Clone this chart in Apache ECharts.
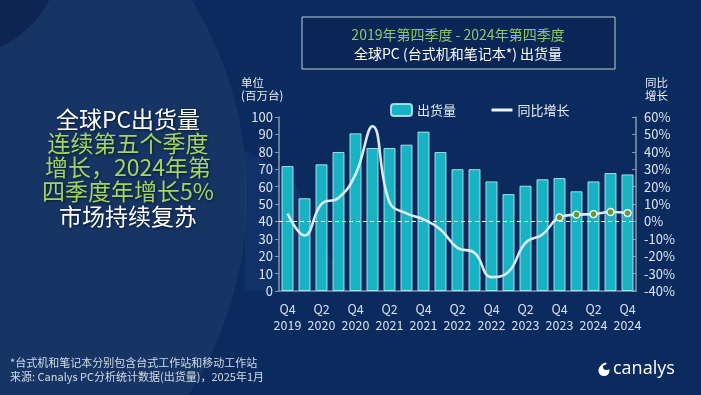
<!DOCTYPE html>
<html><head><meta charset="utf-8">
<script src="https://cdn.jsdelivr.net/npm/echarts@6/dist/echarts.min.js"></script>
<style>html,body{margin:0;padding:0;background:#0b2b5f}#c{width:701px;height:395px}</style>
</head><body><div id="c"></div>
<script>
const categories = ['Q4\n2019','Q1\n2020','Q2\n2020','Q3\n2020','Q4\n2020','Q1\n2021','Q2\n2021','Q3\n2021','Q4\n2021','Q1\n2022','Q2\n2022','Q3\n2022','Q4\n2022','Q1\n2023','Q2\n2023','Q3\n2023','Q4\n2023','Q1\n2024','Q2\n2024','Q3\n2024','Q4\n2024'];
const shipments = [71.8,53.3,72.8,79.9,90.6,82.2,82.2,84.1,91.6,79.9,70.0,70.0,63.0,55.7,60.5,64.2,64.9,57.3,63.0,67.8,67.0];
const yoyGrowth = [4.5,-8.1,10.0,13.5,27.0,54.7,11.0,4.6,1.2,-4.6,-15.2,-18.0,-32.0,-29.0,-12.3,-7.5,2.3,3.9,4.2,5.4,4.8];
const markerStart = 16;
const seriesNames = ['出货量','同比增长'];
const titleLines = ['2019年第四季度 - 2024年第四季度','全球PC (台式机和笔记本*) 出货量'];
const sideLines = [['全球PC出货量','#ffffff'],['连续第五个季度','#a3d465'],['增长，2024年第','#a3d465'],['四季度年增长5%','#a3d465'],['市场持续复苏','#ffffff']];
const notes = ['*台式机和笔记本分别包含台式工作站和移动工作站','来源: Canalys PC分析统计数据(出货量)，2025年1月'];

const FONT = '"Noto Sans CJK SC", "Noto Sans", sans-serif';
const chart = echarts.init(document.getElementById('c'));

const lineData = yoyGrowth.map((v, i) => i >= markerStart
  ? { value: v, symbol: 'circle', symbolSize: 7 }
  : { value: v, symbol: 'none' });

const sideText = sideLines.map((l, i) => ({
  type: 'text', silent: true, z: 5,
  style: { text: l[0], x: 128, y: 119 + i * 24.2, align: 'center', verticalAlign: 'middle',
    fill: l[1], font: '23px ' + FONT, textShadowColor: 'rgba(0,0,0,0.6)', textShadowBlur: 3, textShadowOffsetX: 1, textShadowOffsetY: 1 }
}));

const option = {
  backgroundColor: '#0b2b5f',
  textStyle: { fontFamily: FONT },
  animation: false,
  grid: { left: 279, right: 65, top: 117, bottom: 104, containLabel: false },
  legend: {
    left: 385, top: 98, itemGap: 34, itemWidth: 21, itemHeight: 12,
    textStyle: { color: '#e8eef5', fontSize: 13, fontFamily: FONT },
    data: [{ name: seriesNames[0] },
           { name: seriesNames[1], itemStyle: { opacity: 0 }, lineStyle: { color: '#eef5fb', width: 3 } }]
  },
  xAxis: {
    type: 'category', data: categories,
    axisLine: { lineStyle: { color: '#8797b0', width: 1.5 } },
    axisTick: { show: false },
    axisLabel: { interval: 1, color: '#d6e0ec', fontSize: 12.5, lineHeight: 16, margin: 10, fontFamily: FONT }
  },
  yAxis: [
    { type: 'value', min: 0, max: 100, interval: 10,
      axisLine: { show: true, lineStyle: { color: '#8797b0', width: 1.5 } },
      axisTick: { show: true, length: 4, lineStyle: { color: '#8797b0' } },
      splitLine: { show: false },
      axisLabel: { color: '#dde5ef', fontSize: 13, margin: 6, fontFamily: FONT } },
    { type: 'value', min: -40, max: 60, interval: 10, position: 'right',
      axisLine: { show: true, lineStyle: { color: '#8797b0', width: 1.5 } },
      axisTick: { show: true, inside: true, length: 4, lineStyle: { color: '#8797b0' } },
      splitLine: { show: false },
      axisLabel: { color: '#dde5ef', fontSize: 13, margin: 8, formatter: '{value}%', fontFamily: FONT } }
  ],
  series: [
    { name: seriesNames[0], type: 'bar', data: shipments, barWidth: 12, z: 2,
      itemStyle: { color: '#17b3c3', borderColor: 'rgba(190,235,242,0.85)', borderWidth: 1 } },
    { name: seriesNames[1], type: 'line', yAxisIndex: 1, data: lineData, smooth: 0.45, z: 4,
      symbol: 'none', showSymbol: true,
      lineStyle: { color: '#d9eaf6', width: 2.6 },
      itemStyle: { color: '#5f9a35', borderColor: '#ffffff', borderWidth: 1.3 },
      markLine: { silent: true, symbol: 'none', label: { show: false },
        lineStyle: { color: '#ffffff', type: [4, 3], width: 1 },
        data: [{ yAxis: 0 }] } }
  ],
  graphic: { elements: [
    { type: 'circle', silent: true, z: -20, shape: { cx: -125, cy: 195, r: 372 }, style: { fill: '#163565' } },
    { type: 'circle', silent: true, z: -19, shape: { cx: -40, cy: -45, r: 100 }, style: { fill: '#0e2452' } },
    { type: 'polygon', silent: true, z: -18, shape: { points: [[245,150],[293,180],[347,291],[245,291]] }, style: { fill: 'rgba(40,80,140,0.2)' } },
    { type: 'rect', silent: true, z: 3, shape: { x: 302, y: 17, width: 313, height: 52 }, style: { fill: 'rgba(5,25,60,0.25)', stroke: '#c3ccd8', lineWidth: 1 } },
    { type: 'text', silent: true, z: 5, style: { text: titleLines[0], x: 458, y: 35, align: 'center', verticalAlign: 'middle', fill: '#8fc86b', font: '14px ' + FONT } },
    { type: 'text', silent: true, z: 5, style: { text: titleLines[1], x: 458, y: 54, align: 'center', verticalAlign: 'middle', fill: '#ffffff', font: '14px ' + FONT } },
    { type: 'text', silent: true, z: 5, style: { text: '单位\n(百万台)', x: 241, y: 89, align: 'left', verticalAlign: 'middle', fill: '#e6ecf3', font: '11.5px ' + FONT, lineHeight: 13 } },
    { type: 'text', silent: true, z: 5, style: { text: '同比\n增长', x: 645, y: 89, align: 'left', verticalAlign: 'middle', fill: '#e6ecf3', font: '11.5px ' + FONT, lineHeight: 13 } },
    ...sideText,
    { type: 'text', silent: true, z: 5, style: { text: notes[0], x: 10, y: 363, align: 'left', verticalAlign: 'middle', fill: '#d3dbe6', font: '11px ' + FONT } },
    { type: 'text', silent: true, z: 5, style: { text: notes[1], x: 10, y: 377, align: 'left', verticalAlign: 'middle', fill: '#d3dbe6', font: '11px ' + FONT } },
    { type: 'circle', silent: true, z: 5, shape: { cx: 604, cy: 370.5, r: 5.5 }, style: { fill: '#ffffff' } },
    { type: 'circle', silent: true, z: 6, shape: { cx: 606.5, cy: 366.5, r: 3.6 }, style: { fill: '#0c2a5c' } },
    { type: 'arc', silent: true, z: 6, shape: { cx: 607.5, cy: 371, r: 7.5, startAngle: Math.PI * 1.05, endAngle: Math.PI * 1.45 }, style: { stroke: '#ffffff', lineWidth: 2, fill: null } },
    { type: 'text', silent: true, z: 5, style: { text: 'canalys', x: 613, y: 369, align: 'left', verticalAlign: 'middle', fill: '#ffffff', font: '18px "Open Sans", Lato, sans-serif' } }
  ] }
};
chart.setOption(option);
</script></body></html>
